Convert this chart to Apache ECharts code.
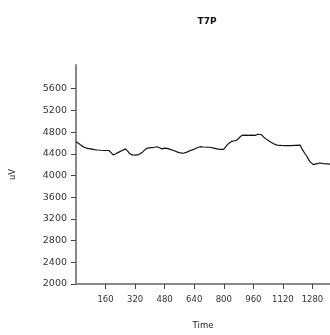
<!DOCTYPE html>
<html>
<head>
<meta charset="utf-8">
<script src="https://cdn.jsdelivr.net/npm/echarts@6/dist/echarts.min.js"></script>
<style>html,body{margin:0;padding:0;background:#fff}#c{width:330px;height:335px}</style>
</head>
<body>
<div id="c"></div>
<script>
var timeVals = [0,15,30,45,61,80,100,115,135,160,178,190,201,215,232,250,268,280,292,304,320,340,360,378,394,410,425,439,452,466,480,493,510,529,550,565,583,600,620,637,655,673,690,710,727,745,763,780,799,808,817,830,844,858,871,885,898,915,934,950,970,985,994,1005,1015,1030,1051,1070,1088,1110,1135,1160,1185,1213,1225,1240,1250,1265,1285,1300,1321,1340,1360,1375];
var uvVals = [4620,4590,4550,4520,4500,4490,4475,4470,4465,4460,4460,4420,4380,4400,4430,4460,4490,4450,4400,4380,4375,4385,4430,4490,4510,4515,4520,4530,4510,4490,4505,4500,4480,4460,4430,4415,4410,4430,4460,4480,4510,4530,4525,4520,4520,4505,4490,4480,4480,4520,4560,4600,4630,4640,4650,4700,4740,4745,4740,4745,4740,4760,4790,4750,4710,4670,4620,4585,4560,4555,4550,4550,4555,4560,4480,4400,4350,4260,4200,4215,4230,4220,4215,4210];
var xTicks = [160,320,480,640,800,960,1120,1280];
var yTicks = [2000,2400,2800,3200,3600,4000,4400,4800,5200,5600];
var titleText = 'T7P';
var xName = 'Time';
var yName = 'uV';

var pts = timeVals.map(function(t,i){return [t, uvVals[i]];});
var plain = function(v){return String(v);};
var chart = echarts.init(document.getElementById('c'), null, {renderer:'canvas'});
chart.setOption({
  animation:false,
  backgroundColor:'#fff',
  title:{text:titleText,left:202,top:12,textAlign:'center',
    textStyle:{fontFamily:'DejaVu Sans',fontSize:9,fontWeight:'bold',color:'#111'}},
  grid:{left:75,right:0,top:65,bottom:45},
  xAxis:{type:'value',min:0,max:1375,name:xName,nameLocation:'middle',nameGap:37,
    nameTextStyle:{fontFamily:'DejaVu Sans',fontSize:8.5,color:'#222'},
    axisLine:{show:true,onZero:false,lineStyle:{color:'#888',width:2}},
    axisTick:{show:true,length:5,customValues:xTicks,lineStyle:{color:'#444',width:1}},
    axisLabel:{customValues:xTicks,formatter:plain,margin:11,fontFamily:'DejaVu Sans',fontSize:8.5,color:'#333',hideOverlap:false},
    splitLine:{show:false}},
  yAxis:{type:'value',min:2000,max:6036,interval:400,name:yName,nameLocation:'middle',nameGap:59,
    nameTextStyle:{fontFamily:'DejaVu Sans',fontSize:8.5,color:'#222'},
    axisLine:{show:true,onZero:false,lineStyle:{color:'#888',width:2}},
    axisTick:{show:true,length:5,customValues:yTicks,lineStyle:{color:'#444',width:1}},
    axisLabel:{customValues:yTicks,formatter:plain,margin:9,fontFamily:'DejaVu Sans',fontSize:9.5,color:'#333'},
    splitLine:{show:false}},
  series:[{type:'line',data:pts,showSymbol:false,symbol:'none',
    lineStyle:{color:'#111',width:1.2},clip:true}]
});
</script>
</body>
</html>
